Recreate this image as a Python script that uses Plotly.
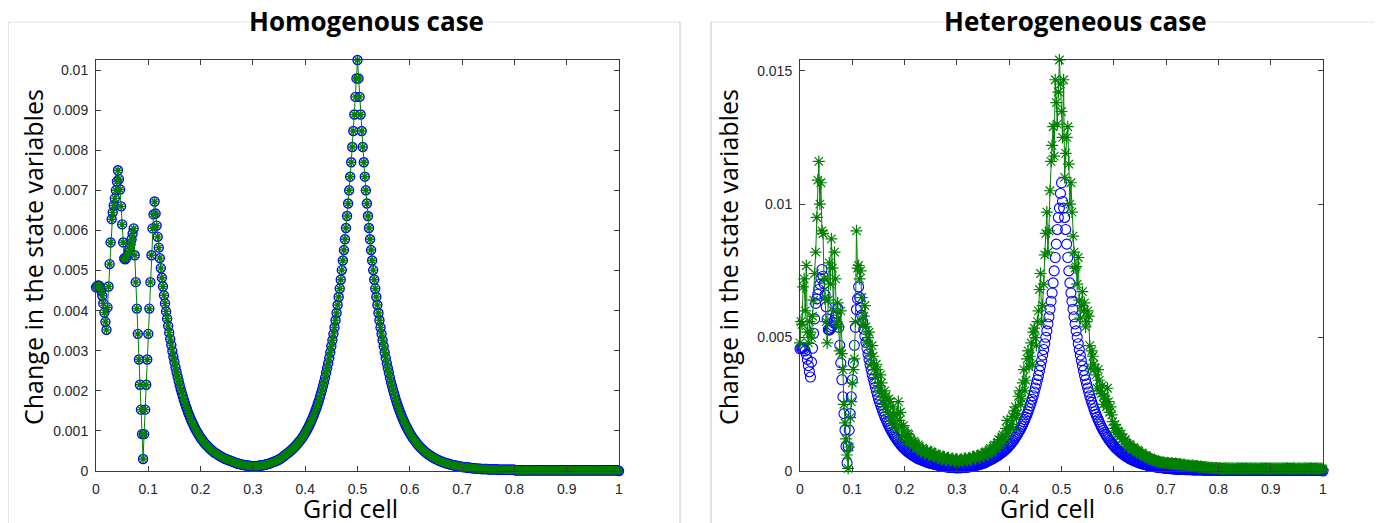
import numpy as np
import plotly.graph_objects as go

# The page body has an 8 px margin, so the figure is drawn 8 px in from the
# window's top-left corner; positions below are given in window pixels.
WIN_W, WIN_H = 1382, 523
OFF = 8
W, H = WIN_W - OFF, WIN_H - OFF

# ---------------- data (values in units of 1e-5) ----------------
# Homogeneous case: identical values for both state variables (501 grid cells)
homog_e5 = [
    458, 461, 463, 462, 458, 450, 437, 418, 395, 372,
    352, 408, 460, 516, 570, 628, 645, 662, 680, 700,
    722, 750, 728, 702, 660, 615, 570, 530, 528, 532,
    538, 545, 555, 566, 578, 592, 605, 538, 471, 405,
    342, 278, 215, 153, 92, 30, 92, 153, 215, 278,
    342, 405, 471, 538, 605, 640, 672, 642, 612, 584,
    557, 531, 506, 482, 460, 438, 418, 398, 380, 362,
    345, 329, 314, 299, 285, 272, 259, 247, 236, 225,
    214, 204, 195, 186, 177, 169, 161, 154, 146, 140,
    133, 127, 121, 116, 110, 105, 100, 96, 91, 87,
    83, 79, 76, 72, 69, 66, 64, 61, 58, 56,
    53, 51, 49, 46, 45, 44, 42, 40, 38, 37,
    35, 34, 32, 31, 30, 29, 28, 27, 26, 25,
    24, 23, 22, 21, 20, 19, 18, 18, 17, 16,
    16, 15, 15, 14, 14, 13, 13, 13, 12, 12,
    12, 12, 12, 12, 12, 13, 13, 13, 14, 14,
    15, 15, 16, 17, 17, 18, 19, 20, 21, 22,
    23, 24, 25, 26, 27, 29, 30, 32, 34, 36,
    38, 40, 42, 44, 46, 48, 50, 53, 55, 58,
    60, 63, 66, 69, 73, 75, 79, 82, 86, 90,
    95, 99, 104, 109, 114, 120, 126, 132, 138, 145,
    152, 159, 167, 175, 184, 193, 202, 212, 222, 233,
    245, 257, 269, 282, 296, 311, 326, 342, 358, 376,
    394, 414, 434, 455, 477, 501, 525, 551, 578, 606,
    636, 667, 700, 734, 770, 808, 848, 889, 933, 979,
    1025, 979, 933, 889, 848, 808, 770, 734, 700, 667,
    636, 606, 578, 551, 525, 501, 477, 455, 434, 414,
    394, 376, 358, 342, 326, 311, 296, 282, 269, 257,
    245, 233, 222, 212, 202, 193, 184, 175, 167, 159,
    152, 145, 138, 132, 126, 120, 114, 109, 104, 99,
    95, 90, 86, 82, 79, 75, 72, 68, 65, 62,
    59, 57, 54, 52, 49, 47, 45, 43, 41, 39,
    38, 36, 34, 33, 31, 30, 29, 27, 26, 25,
    24, 23, 22, 21, 20, 19, 19, 18, 17, 16,
    16, 15, 14, 14, 13, 13, 12, 12, 11, 11,
    10, 10, 10, 9, 9, 9, 8, 8, 8, 7,
    7, 7, 7, 6, 6, 6, 6, 6, 5, 5,
    5, 5, 5, 5, 5, 4, 4, 4, 4, 4,
    4, 4, 4, 4, 4, 3, 3, 3, 3, 3,
    3, 3, 3, 3, 3, 3, 3, 3, 3, 3,
    3, 2, 2, 2, 2, 2, 2, 2, 2, 2,
    2, 2, 2, 2, 2, 2, 2, 2, 2, 2,
    2, 2, 2, 2, 2, 2, 2, 2, 2, 2,
    2, 2, 2, 2, 2, 2, 2, 2, 2, 2,
    2, 2, 2, 2, 2, 2, 2, 2, 2, 2,
    2, 2, 2, 2, 2, 2, 2, 2, 2, 2,
    2, 2, 2, 2, 2, 2, 2, 2, 2, 2,
    2, 2, 2, 2, 2, 2, 2, 2, 2, 2,
    2, 2, 2, 2, 2, 2, 2, 2, 2, 2,
    2, 2, 2, 2, 2, 2, 2, 2, 2, 2,
    0,
]

# Heterogeneous case, first variable (blue circles, 501 grid cells)
het_blue_e5 = [
    458, 461, 463, 462, 458, 450, 437, 418, 395, 372,
    352, 408, 460, 516, 570, 628, 645, 662, 680, 700,
    722, 755, 730, 702, 660, 615, 570, 530, 528, 532,
    538, 545, 555, 566, 578, 592, 610, 538, 471, 405,
    342, 278, 215, 153, 92, 30, 92, 153, 215, 278,
    342, 405, 471, 538, 605, 645, 690, 650, 612, 584,
    557, 531, 506, 482, 460, 438, 418, 398, 380, 362,
    345, 329, 314, 299, 285, 272, 259, 247, 236, 225,
    214, 204, 195, 186, 177, 169, 161, 154, 146, 140,
    133, 127, 121, 116, 110, 105, 100, 96, 91, 87,
    83, 79, 76, 72, 69, 66, 64, 61, 58, 56,
    53, 51, 49, 46, 45, 44, 42, 40, 38, 37,
    35, 34, 32, 31, 30, 29, 28, 27, 26, 25,
    24, 23, 22, 21, 20, 19, 18, 18, 17, 16,
    16, 15, 15, 14, 14, 13, 13, 13, 12, 12,
    12, 12, 12, 12, 12, 13, 13, 13, 14, 14,
    15, 15, 16, 17, 17, 18, 19, 20, 21, 22,
    23, 24, 25, 26, 27, 29, 30, 32, 34, 36,
    38, 40, 42, 44, 46, 48, 50, 53, 55, 58,
    60, 63, 66, 69, 73, 75, 79, 82, 86, 90,
    95, 99, 104, 109, 114, 120, 126, 132, 138, 145,
    152, 159, 167, 175, 184, 193, 202, 212, 222, 233,
    245, 257, 269, 282, 296, 311, 326, 342, 358, 376,
    394, 414, 434, 455, 477, 501, 525, 551, 578, 606,
    636, 667, 705, 750, 800, 850, 905, 950, 985, 1040,
    1080, 1010, 985, 950, 905, 850, 800, 750, 705, 667,
    636, 606, 578, 551, 525, 501, 477, 455, 434, 414,
    394, 376, 358, 342, 326, 311, 296, 282, 269, 257,
    245, 233, 222, 212, 202, 193, 184, 175, 167, 159,
    152, 145, 138, 132, 126, 120, 114, 109, 104, 99,
    95, 90, 86, 82, 79, 75, 72, 68, 65, 62,
    59, 57, 54, 52, 49, 47, 45, 43, 41, 39,
    38, 36, 34, 33, 31, 30, 29, 27, 26, 25,
    24, 23, 22, 21, 20, 19, 19, 18, 17, 16,
    16, 15, 14, 14, 13, 13, 12, 12, 11, 11,
    10, 10, 10, 9, 9, 9, 8, 8, 8, 7,
    7, 7, 7, 6, 6, 6, 6, 6, 5, 5,
    5, 5, 5, 5, 5, 4, 4, 4, 4, 4,
    4, 4, 4, 4, 4, 3, 3, 3, 3, 3,
    3, 3, 3, 3, 3, 3, 3, 3, 3, 3,
    3, 2, 2, 2, 2, 2, 2, 2, 2, 2,
    2, 2, 2, 2, 2, 2, 2, 2, 2, 2,
    2, 2, 2, 2, 2, 2, 2, 2, 2, 2,
    2, 2, 2, 2, 2, 2, 2, 2, 2, 2,
    2, 2, 2, 2, 2, 2, 2, 2, 2, 2,
    2, 2, 2, 2, 2, 2, 2, 2, 2, 2,
    2, 2, 2, 2, 2, 2, 2, 2, 2, 2,
    2, 2, 2, 2, 2, 2, 2, 2, 2, 2,
    2, 2, 2, 2, 2, 2, 2, 2, 2, 2,
    2, 2, 2, 2, 2, 2, 2, 2, 2, 2,
    0,
]

# Heterogeneous case, second variable (green asterisks, 501 grid cells)
het_green_e5 = [
    480, 560, 550, 690, 720, 600, 770, 520, 480, 560,
    520, 500, 580, 640, 740, 820, 950, 1090, 1160, 1000,
    1080, 900, 890, 720, 650, 560, 480, 640, 780, 700,
    870, 760, 600, 820, 720, 560, 630, 540, 450, 600,
    440, 380, 250, 180, 120, 60, 10, 90, 200, 260,
    330, 380, 420, 560, 900, 760, 770, 720, 750, 650,
    550, 580, 620, 540, 480, 500, 520, 440, 400, 470,
    430, 380, 350, 400, 380, 320, 300, 360, 330, 280,
    250, 300, 280, 240, 220, 270, 260, 200, 190, 240,
    210, 175, 160, 215, 260, 190, 220, 165, 130, 170,
    150, 125, 115, 140, 135, 100, 116, 108, 95, 112,
    105, 88, 85, 98, 92, 78, 72, 86, 80, 66,
    68, 76, 74, 60, 62, 72, 70, 58, 55, 64,
    62, 52, 48, 58, 56, 46, 44, 54, 52, 42,
    40, 48, 50, 41, 38, 46, 47, 39, 36, 44,
    45, 35, 34, 42, 44, 38, 37, 46, 48, 39,
    40, 47, 50, 44, 42, 52, 54, 47, 45, 56,
    58, 52, 50, 62, 64, 58, 56, 68, 72, 62,
    64, 78, 85, 70, 74, 92, 98, 84, 88, 108,
    118, 96, 102, 128, 135, 115, 125, 160, 190, 140,
    150, 165, 175, 205, 160, 225, 240, 200, 215, 280,
    300, 250, 270, 330, 380, 300, 340, 420, 450, 390,
    430, 480, 400, 520, 535, 500, 470, 560, 600, 680,
    740, 560, 620, 700, 810, 890, 970, 820, 900, 1050,
    1160, 1220, 1290, 1180, 1466, 1380, 1300, 1420, 1540, 1450,
    1347, 1250, 1466, 1100, 1190, 1250, 1290, 1150, 1000, 1080,
    970, 880, 820, 760, 766, 700, 800, 640, 573, 620,
    672, 600, 630, 540, 560, 600, 580, 470, 385, 450,
    430, 400, 385, 360, 310, 380, 340, 300, 290, 320,
    250, 280, 270, 240, 310, 260, 220, 240, 210, 185,
    160, 175, 145, 160, 150, 140, 130, 138, 120, 125,
    110, 118, 104, 98, 90, 100, 95, 86, 80, 88,
    82, 76, 70, 78, 72, 66, 62, 68, 60, 57,
    54, 58, 52, 49, 46, 48, 44, 42, 40, 42,
    38, 37, 35, 36, 34, 33, 31, 33, 32, 30,
    29, 31, 30, 28, 27, 29, 28, 26, 26, 28,
    27, 25, 24, 26, 25, 23, 22, 24, 23, 21,
    20, 22, 21, 19, 19, 21, 20, 18, 17, 19,
    18, 16, 15, 17, 16, 15, 14, 15, 13, 14,
    12, 13, 11, 12, 12, 11, 10, 11, 11, 10,
    9, 10, 10, 8, 8, 9, 9, 10, 9, 8,
    10, 9, 8, 10, 9, 8, 8, 9, 10, 9,
    9, 8, 10, 9, 8, 9, 9, 10, 8, 9,
    8, 10, 9, 8, 9, 9, 10, 8, 9, 8,
    9, 10, 8, 9, 8, 10, 9, 9, 8, 9,
    10, 8, 9, 8, 9, 10, 8, 9, 9, 8,
    9, 9, 8, 10, 8, 9, 10, 8, 9, 9,
    8, 9, 10, 9, 8, 8, 9, 10, 9, 8,
    9, 8, 9, 10, 9, 8, 9, 8, 10, 9,
    8, 9, 8, 9, 10, 9, 8, 9, 8, 9,
    5,
]

for name, arr in (("homog", homog_e5), ("het_blue", het_blue_e5), ("het_green", het_green_e5)):
    if len(arr) != 501:
        raise SystemExit(f"{name} has {len(arr)} values, expected 501")

UNIT = 1e-5
homog = np.array(homog_e5) * UNIT
het_blue = np.array(het_blue_e5) * UNIT
het_green = np.array(het_green_e5) * UNIT

grid = np.linspace(0, 1, 501)

x_ticks = [0, 0.1, 0.2, 0.3, 0.4, 0.5, 0.6, 0.7, 0.8, 0.9, 1]
x_tick_text = ["0", "0.1", "0.2", "0.3", "0.4", "0.5", "0.6", "0.7", "0.8", "0.9", "1"]
yl_ticks = [0, 0.001, 0.002, 0.003, 0.004, 0.005, 0.006, 0.007, 0.008, 0.009, 0.01]
yl_tick_text = ["0", "0.001", "0.002", "0.003", "0.004", "0.005", "0.006", "0.007", "0.008", "0.009", "0.01"]
yr_ticks = [0, 0.005, 0.01, 0.015]
yr_tick_text = ["0", "0.005", "0.01", "0.015"]

titles = ["Homogenous case", "Heterogeneous case"]
x_title = "Grid cell"
y_title = "Change in the state variables"

BLUE = "#0000ff"
GREEN = "#008000"

# ---------------- figure ----------------
fig = go.Figure()

# left panel
fig.add_trace(go.Scatter(x=grid, y=homog, mode="markers", xaxis="x", yaxis="y",
                         marker=dict(symbol="circle-open", size=9, color=BLUE,
                                     line=dict(width=1.4, color=BLUE)),
                         cliponaxis=False, showlegend=False))
fig.add_trace(go.Scatter(x=grid, y=homog, mode="lines+markers", xaxis="x", yaxis="y",
                         line=dict(color=GREEN, width=1),
                         marker=dict(symbol="asterisk-open", size=7, color=GREEN,
                                     line=dict(width=1.4, color=GREEN)),
                         cliponaxis=False, showlegend=False))
# right panel
fig.add_trace(go.Scatter(x=grid, y=het_blue, mode="markers", xaxis="x2", yaxis="y2",
                         marker=dict(symbol="circle-open", size=10, color=BLUE,
                                     line=dict(width=1.1, color=BLUE)),
                         cliponaxis=False, showlegend=False))
fig.add_trace(go.Scatter(x=grid, y=het_green, mode="lines+markers", xaxis="x2", yaxis="y2",
                         line=dict(color=GREEN, width=1),
                         marker=dict(symbol="asterisk-open", size=10, color=GREEN,
                                     line=dict(width=1.2, color=GREEN)),
                         cliponaxis=False, showlegend=False))

def fx(p):
    """window pixel x -> paper fraction"""
    return (p - OFF) / W

def fy(p):
    """window pixel y -> paper fraction"""
    return 1 - (p - OFF) / H

tick_font = dict(family="Liberation Sans Narrow, Liberation Sans, Arial, sans-serif", size=14, color="#262633")
axis_common = dict(showline=True, linecolor="#3a3a3a", linewidth=1, mirror="allticks",
                   ticks="inside", ticklen=5, tickcolor="#3a3a3a", tickwidth=1,
                   showgrid=False, zeroline=False, tickfont=tick_font, automargin=False)

left_dom = [fx(96), fx(619)]
right_dom = [fx(800), fx(1323)]
y_dom = [fy(471), fy(60)]

fig.update_layout(
    width=W, height=H,
    margin=dict(l=0, r=0, t=0, b=0, autoexpand=False),
    paper_bgcolor="white", plot_bgcolor="white",
    xaxis=dict(domain=left_dom, range=[0, 1], tickvals=x_ticks, ticktext=x_tick_text,
               anchor="y", ticklabelstandoff=5, **axis_common),
    yaxis=dict(domain=y_dom, range=[0, 0.01025], tickvals=yl_ticks, ticktext=yl_tick_text,
               anchor="x", ticklabelstandoff=4, **axis_common),
    xaxis2=dict(domain=right_dom, range=[0, 1], tickvals=x_ticks, ticktext=x_tick_text,
                anchor="y2", ticklabelstandoff=5, **axis_common),
    yaxis2=dict(domain=y_dom, range=[0, 0.0154], tickvals=yr_ticks, ticktext=yr_tick_text,
                anchor="x2", ticklabelstandoff=4, **axis_common),
)

# panel frames (light gray lines around each pasted picture)
frame_light = "#e4e4e4"
frame_mid = "#c4c4c4"
shapes = [
    dict(type="line", xref="paper", yref="paper", x0=fx(8.5), x1=fx(680), y0=fy(22), y1=fy(22),
         line=dict(color=frame_light, width=1), layer="below"),
    dict(type="line", xref="paper", yref="paper", x0=fx(8.5), x1=fx(8.5), y0=fy(22), y1=fy(523),
         line=dict(color=frame_light, width=1), layer="below"),
    dict(type="line", xref="paper", yref="paper", x0=fx(680), x1=fx(680), y0=fy(22), y1=fy(523),
         line=dict(color=frame_mid, width=1), layer="below"),
    dict(type="line", xref="paper", yref="paper", x0=fx(711), x1=fx(1382), y0=fy(22), y1=fy(22),
         line=dict(color=frame_light, width=1), layer="below"),
    dict(type="line", xref="paper", yref="paper", x0=fx(711), x1=fx(711), y0=fy(22), y1=fy(523),
         line=dict(color=frame_mid, width=1), layer="below"),
]
fig.update_layout(shapes=shapes)

title_font = dict(family="Open Sans", size=26, color="black")
label_font = dict(family="Open Sans", size=25, color="black")
annotations = [
    dict(text="<b>" + titles[0] + "</b>", x=fx(366), y=fy(21), xref="paper", yref="paper",
         showarrow=False, xanchor="center", yanchor="middle", font=title_font),
    dict(text="<b>" + titles[1] + "</b>", x=fx(1075), y=fy(21), xref="paper", yref="paper",
         showarrow=False, xanchor="center", yanchor="middle", font=title_font),
    dict(text=y_title, x=fx(33), y=fy(257), xref="paper", yref="paper", textangle=-90,
         showarrow=False, xanchor="center", yanchor="middle", font=label_font),
    dict(text=y_title, x=fx(728), y=fy(257), xref="paper", yref="paper", textangle=-90,
         showarrow=False, xanchor="center", yanchor="middle", font=label_font),
    dict(text=x_title, x=fx(350), y=fy(508), xref="paper", yref="paper",
         showarrow=False, xanchor="center", yanchor="middle", font=label_font),
    dict(text=x_title, x=fx(1047), y=fy(508), xref="paper", yref="paper",
         showarrow=False, xanchor="center", yanchor="middle", font=label_font),
]
fig.update_layout(annotations=annotations)

fig.write_html("out.html")
